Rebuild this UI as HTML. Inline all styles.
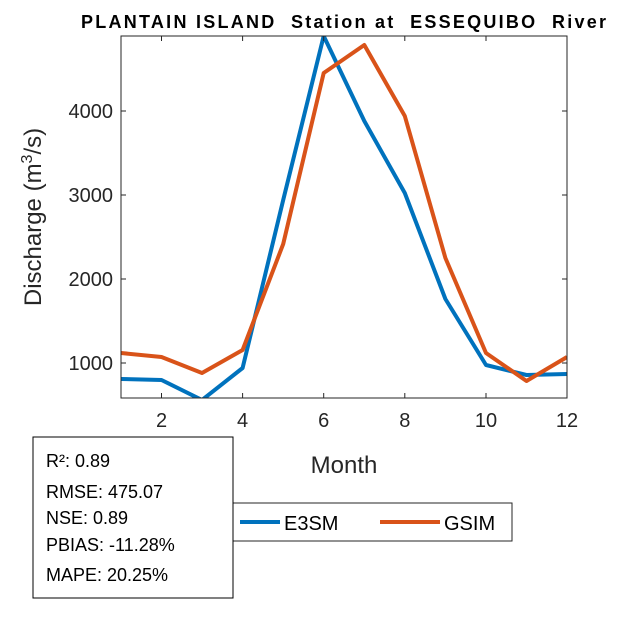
<!DOCTYPE html>
<html><head><style>
html,body{margin:0;padding:0;background:#fff;}
svg text{font-family:"Liberation Sans",Arial,sans-serif;}
</style></head><body>
<svg width="625" height="625" viewBox="0 0 625 625" xmlns="http://www.w3.org/2000/svg">
<rect width="625" height="625" fill="#fff"/>
<defs><clipPath id="c"><rect x="121" y="36" width="446" height="362"/></clipPath></defs>
<g clip-path="url(#c)" fill="none" stroke-width="4" stroke-linejoin="round">
<polyline stroke="#0072BD" points="121,379 161.5,380 202,400 242.6,368 283.2,200 323.7,36 364.3,121 404.8,193 445.4,299 486,365 526.5,375 567,374"/>
<polyline stroke="#D95319" points="121,353 161.5,357 202,373 242.6,350 283.2,244 323.7,73 364.3,45 404.8,116 445.4,258 486,353 526.5,381 567,357"/>
</g>
<rect x="121" y="36" width="446" height="362" fill="none" stroke="#262626" stroke-width="1"/>
<g stroke="#262626" stroke-width="1">
<line x1="161.5" y1="398" x2="161.5" y2="393"/><line x1="242.6" y1="398" x2="242.6" y2="393"/><line x1="323.7" y1="398" x2="323.7" y2="393"/><line x1="404.8" y1="398" x2="404.8" y2="393"/><line x1="486" y1="398" x2="486" y2="393"/>
<line x1="161.5" y1="36" x2="161.5" y2="41"/><line x1="242.6" y1="36" x2="242.6" y2="41"/><line x1="323.7" y1="36" x2="323.7" y2="41"/><line x1="404.8" y1="36" x2="404.8" y2="41"/><line x1="486" y1="36" x2="486" y2="41"/>
<line x1="121" y1="363" x2="126" y2="363"/><line x1="121" y1="279" x2="126" y2="279"/><line x1="121" y1="195" x2="126" y2="195"/><line x1="121" y1="111" x2="126" y2="111"/>
<line x1="567" y1="363" x2="562" y2="363"/><line x1="567" y1="279" x2="562" y2="279"/><line x1="567" y1="195" x2="562" y2="195"/><line x1="567" y1="111" x2="562" y2="111"/>
</g>
<g font-size="20" fill="#262626" text-anchor="middle">
<text x="161.5" y="427">2</text><text x="242.6" y="427">4</text><text x="323.7" y="427">6</text><text x="404.8" y="427">8</text><text x="486" y="427">10</text><text x="567" y="427">12</text>
</g>
<g font-size="20" fill="#262626" text-anchor="end">
<text x="113" y="370">1000</text><text x="113" y="286">2000</text><text x="113" y="202">3000</text><text x="113" y="118">4000</text>
</g>
<text x="344" y="473" font-size="24" fill="#262626" text-anchor="middle">Month</text>
<text transform="translate(41,217) rotate(-90)" font-size="24" fill="#262626" text-anchor="middle">Discharge (m<tspan font-size="16" dy="-9">3</tspan><tspan dy="9">/s)</tspan></text>
<text x="81" y="28" font-size="18" font-weight="bold" fill="#000" textLength="525" lengthAdjust="spacing" xml:space="preserve" style="white-space:pre">PLANTAIN ISLAND  Station at  ESSEQUIBO  River</text>
<rect x="233" y="503" width="279" height="38" fill="#fff" stroke="#262626"/>
<line x1="240" y1="522" x2="280" y2="522" stroke="#0072BD" stroke-width="4"/>
<text x="284" y="530" font-size="20" fill="#000">E3SM</text>
<line x1="380" y1="522" x2="440" y2="522" stroke="#D95319" stroke-width="4"/>
<text x="444" y="530" font-size="20" fill="#000">GSIM</text>
<rect x="33" y="437" width="200" height="161" fill="#fff" stroke="#000"/>
<g font-size="18" fill="#000">
<text x="46" y="467">R²: 0.89</text>
<text x="46" y="498">RMSE: 475.07</text>
<text x="46" y="524">NSE: 0.89</text>
<text x="46" y="551">PBIAS: -11.28%</text>
<text x="46" y="581">MAPE: 20.25%</text>
</g>
</svg>
</body></html>
